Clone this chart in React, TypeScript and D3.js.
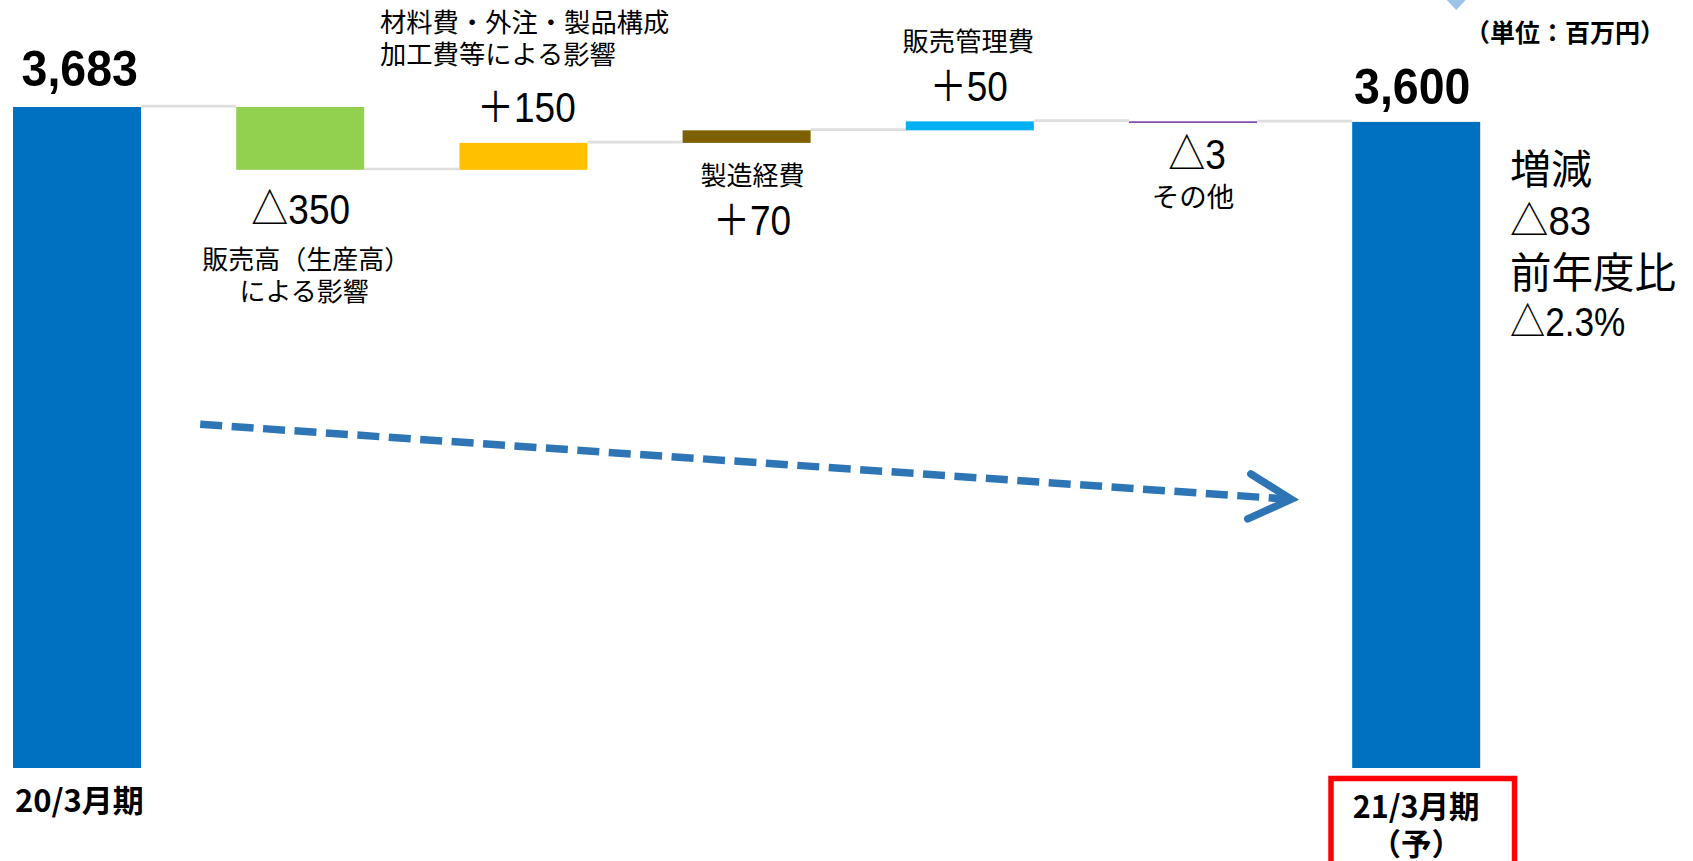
import React from 'react';
import * as d3 from 'd3';

// ---- data ----
const categories = ['20/3月期', '販売高', '材料費等', '製造経費', '販売管理費', 'その他', '21/3月期'];
const kinds = ['total', 'delta', 'delta', 'delta', 'delta', 'delta', 'total'];
const values = [3683, -350, 150, 70, 50, -3, 3600];
const barColors = ['#0070C0', '#92D050', '#FFC000', '#7F6000', '#00B0F0', '#7030A0', '#0070C0'];
const valueLabels = ['3,683', '△350', '＋150', '＋70', '＋50', '△3', '3,600'];
const nameLabels: string[][] = [
  [],
  ['販売高（生産高）', 'による影響'],
  ['材料費・外注・製品構成', '加工費等による影響'],
  ['製造経費'],
  ['販売管理費'],
  ['その他'],
  [],
];
const axisLabels = ['20/3月期', '21/3月期', '（予）'];
const summaryLines = ['増減', '△83', '前年度比', '△2.3%'];
const unitLabel = '（単位：百万円）';

const W = 1693;
const H = 861;
const NUM = "'Liberation Sans', 'Noto Sans CJK JP', sans-serif";
const JP = "'Noto Sans CJK JP', sans-serif";

type TProps = {
  x: number; y: number; text: string; size: number; weight?: number;
  sx?: number; anchor?: 'start' | 'middle' | 'end'; family?: string; fill?: string;
};
const T = ({ x, y, text, size, weight = 400, sx = 1, anchor = 'middle', family = JP, fill = '#000' }: TProps) => (
  <text
    transform={`translate(${x},${y}) scale(${sx},1)`}
    textAnchor={anchor}
    fontSize={size}
    fontWeight={weight}
    fontFamily={family}
    fill={fill}
  >
    {text}
  </text>
);

export default function App() {
  const x = d3.scaleBand<string>().domain(categories).range([13, 1480.2]).paddingInner(0.4265).paddingOuter(0);
  const y = d3.scaleLinear().domain([0, 3683]).range([768, 107]);
  const bw = x.bandwidth();

  // running totals
  let running = 0;
  const bars = categories.map((c, i) => {
    let start: number, end: number;
    if (kinds[i] === 'total') {
      start = 0;
      end = values[i];
    } else {
      start = running;
      end = running + values[i];
    }
    running = end;
    const top = y(Math.max(start, end));
    const bottom = y(Math.min(start, end));
    return { c, i, start, end, x0: x(c) as number, top, h: Math.max(bottom - top, 1.5) };
  });

  const cx = (i: number) => (x(categories[i]) as number) + bw / 2;

  // arrow geometry derived from scales
  const ax0 = (x(categories[1]) as number) - 36;
  const ay0 = y(1915);
  const ax1 = (x(categories[6]) as number) - 61;
  const ay1 = y(1497);
  const ang = Math.atan2(ay1 - ay0, ax1 - ax0);
  const ux = Math.cos(ang), uy = Math.sin(ang);
  const px = -uy, py = ux;
  const back = 42, half = 22.5;
  const arm1 = [ax1 - ux * back + px * half, ay1 - uy * back + py * half];
  const arm2 = [ax1 - ux * back - px * half, ay1 - uy * back - py * half];
  const lineEnd = [ax1 - ux * 8, ay1 - uy * 8];

  return (
    <svg width={W} height={H} style={{ position: 'absolute', left: 0, top: 0, background: '#fff' }}>
      <rect x={0} y={0} width={W} height={H} fill="#fff" />
      {/* small decorative triangle at top */}
      <polygon points="1446.7,0 1465.7,0 1456.2,10" fill="#9DC3E6" />

      {/* connectors */}
      {bars.slice(0, -1).map((b, i) => {
        const next = bars[i + 1];
        return (
          <line
            key={'c' + i}
            x1={b.x0 + bw}
            x2={next.x0}
            y1={y(b.end) - 0.8}
            y2={y(b.end) - 0.8}
            stroke="#DEDEDE"
            strokeWidth={2.7}
          />
        );
      })}

      {/* bars */}
      {bars.map((b) => (
        <rect key={b.c} x={b.x0} y={b.top} width={bw} height={b.h} fill={barColors[b.i]} />
      ))}

      {/* value labels */}
      <T x={cx(0) + 2.7} y={85.5} text={valueLabels[0]} size={50} weight={700} sx={0.93} family={NUM} />
      <T x={cx(1) + 0.5} y={223.5} text={valueLabels[1]} size={42.5} sx={0.87} family={NUM} />
      <T x={cx(2) + 3} y={121.5} text={valueLabels[2]} size={42.5} sx={0.87} family={NUM} />
      <T x={cx(3) + 5.5} y={235} text={valueLabels[3]} size={42.5} sx={0.87} family={NUM} />
      <T x={cx(4) - 1} y={101} text={valueLabels[4]} size={42.5} sx={0.87} family={NUM} />
      <T x={cx(5) + 4} y={169} text={valueLabels[5]} size={42.5} sx={0.87} family={NUM} />
      <T x={cx(6) - 4} y={104} text={valueLabels[6]} size={50} weight={700} sx={0.93} family={NUM} />

      {/* category name labels */}
      <T x={cx(1) + 6} y={268.5} text={nameLabels[1][0]} size={26} />
      <T x={cx(1) + 4} y={300.5} text={nameLabels[1][1]} size={26} />
      <T x={cx(2) - 143.4} y={31.7} text={nameLabels[2][0]} size={26.3} anchor="start" />
      <T x={cx(2) - 143.4} y={63.5} text={nameLabels[2][1]} size={26.3} anchor="start" />
      <T x={cx(3) + 6} y={185} text={nameLabels[3][0]} size={26} />
      <T x={cx(4) - 1.5} y={50.7} text={nameLabels[4][0]} size={26.3} />
      <T x={cx(5)} y={206.5} text={nameLabels[5][0]} size={27.5} />

      {/* summary on the right */}
      <T x={1510} y={183.5} text={summaryLines[0]} size={41} anchor="start" />
      <T x={1510} y={235} text={summaryLines[1]} size={40} sx={0.96} anchor="start" family={NUM} />
      <T x={1510} y={287.5} text={summaryLines[2]} size={41.5} anchor="start" />
      <T x={1510} y={336} text={summaryLines[3]} size={40} sx={0.88} anchor="start" family={NUM} />

      {/* unit */}
      <T x={1465} y={41.8} text={unitLabel} size={25} weight={700} anchor="start" />

      {/* axis labels */}
      <T x={15} y={812} text={axisLabels[0]} size={31} weight={700} anchor="start" />
      <rect x={1331} y={778.5} width={183.5} height={110} fill="none" stroke="#FF0000" strokeWidth={5.5} />
      <T x={cx(6)} y={818} text={axisLabels[1]} size={30.5} weight={700} />
      <T x={cx(6)} y={855} text={axisLabels[2]} size={30.5} weight={700} />

      {/* dashed trend arrow */}
      <line
        x1={ax0}
        y1={ay0}
        x2={lineEnd[0]}
        y2={lineEnd[1]}
        stroke="#2E75B6"
        strokeWidth={7.5}
        strokeDasharray="22 9.5"
      />
      <path
        d={`M${arm1[0]},${arm1[1]} L${ax1},${ay1} L${arm2[0]},${arm2[1]}`}
        fill="none"
        stroke="#2E75B6"
        strokeWidth={7.5}
        strokeLinecap="round"
        strokeLinejoin="miter"
      />
    </svg>
  );
}
